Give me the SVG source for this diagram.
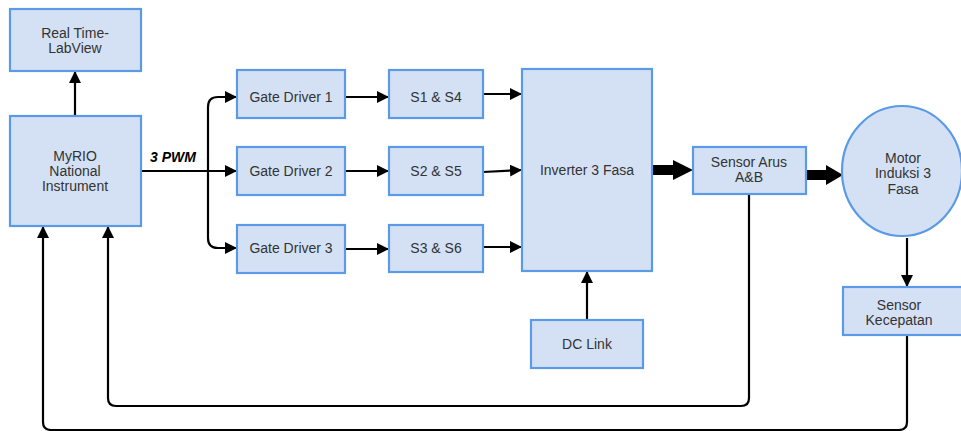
<svg xmlns="http://www.w3.org/2000/svg" width="961" height="431" viewBox="0 0 961 431">
<style>
.box{fill:#d4e1f5;stroke:#5a9ae6;stroke-width:2.2}
.t{font-family:"Liberation Sans",Arial,sans-serif;font-size:14px;fill:#333;text-anchor:middle}
.c{fill:none;stroke:#000;stroke-width:2.2}
.thick{fill:#000;stroke:none}
</style>
<defs>
<marker id="ah" markerUnits="userSpaceOnUse" markerWidth="12" markerHeight="12" viewBox="0 0 12 12" refX="11" refY="6" orient="auto">
<path d="M0,0 L12,6 L0,12 Z" fill="#000"/>
</marker>
</defs>
<rect width="961" height="431" fill="#fff"/>
<g id="connectors">
<path class="c" d="M75,115 V72" marker-end="url(#ah)"/>
<path class="c" d="M141,171 H236" marker-end="url(#ah)"/>
<path class="c" d="M208,171 V107 Q208,97 218,97 H236" marker-end="url(#ah)"/>
<path class="c" d="M208,171 V238 Q208,248 218,248 H236" marker-end="url(#ah)"/>
<path class="c" d="M345,97 H388" marker-end="url(#ah)"/>
<path class="c" d="M345,171 H388" marker-end="url(#ah)"/>
<path class="c" d="M345,249 H388" marker-end="url(#ah)"/>
<path class="c" d="M483,94 H521" marker-end="url(#ah)"/>
<path class="c" d="M483,172 L521,170" marker-end="url(#ah)"/>
<path class="c" d="M483,247 H521" marker-end="url(#ah)"/>
<path class="thick" d="M652,165 H673 V160 L693,170 L673,180 V175 H652 Z"/>
<path class="thick" d="M806,170 H826 V165 L843,175 L826,185 V180 H806 Z"/>
<path class="c" d="M587,320 V272" marker-end="url(#ah)"/>
<path class="c" d="M907,238 V286" marker-end="url(#ah)"/>
<path class="c" d="M749,194 V398 Q749,406 741,406 H116 Q108,406 108,398 V227" marker-end="url(#ah)"/>
<path class="c" d="M907,335 V422 Q907,430 899,430 H51 Q43,430 43,422 V227" marker-end="url(#ah)"/>
</g>
<g id="realtime">
<rect class="box" x="10" y="9" width="131" height="62"/>
<text class="t" x="75" y="38">Real Time-</text>
<text class="t" x="75" y="53">LabView</text>
</g>
<g id="myrio">
<rect class="box" x="10" y="116" width="131" height="110"/>
<text class="t" x="75" y="161">MyRIO</text>
<text class="t" x="75" y="176">National</text>
<text class="t" x="75" y="191">Instrument</text>
</g>
<g id="pwm-label">
<text x="150" y="162" style="font-family:'Liberation Sans',Arial,sans-serif;font-size:14px;font-weight:bold;font-style:italic;fill:#000">3 PWM</text>
</g>
<g id="gd1">
<rect class="box" x="237" y="70" width="108" height="48"/>
<text class="t" x="291" y="102">Gate Driver 1</text>
</g>
<g id="gd2">
<rect class="box" x="237" y="147" width="108" height="48"/>
<text class="t" x="291" y="176">Gate Driver 2</text>
</g>
<g id="gd3">
<rect class="box" x="237" y="225" width="108" height="48"/>
<text class="t" x="291" y="253">Gate Driver 3</text>
</g>
<g id="s14">
<rect class="box" x="389" y="70" width="94" height="48"/>
<text class="t" x="436" y="102">S1 &amp; S4</text>
</g>
<g id="s25">
<rect class="box" x="389" y="147" width="94" height="48"/>
<text class="t" x="436" y="176">S2 &amp; S5</text>
</g>
<g id="s36">
<rect class="box" x="389" y="225" width="94" height="47"/>
<text class="t" x="436" y="253">S3 &amp; S6</text>
</g>
<g id="inverter">
<rect class="box" x="522" y="69" width="130" height="202"/>
<text class="t" x="587" y="175">Inverter 3 Fasa</text>
</g>
<g id="sensor-arus">
<rect class="box" x="693" y="147" width="113" height="47"/>
<text class="t" x="749" y="167">Sensor Arus</text>
<text class="t" x="749" y="182">A&amp;B</text>
</g>
<g id="motor">
<ellipse class="box" cx="902" cy="171" rx="60" ry="65"/>
<text class="t" x="903" y="163">Motor</text>
<text class="t" x="903" y="178">Induksi 3</text>
<text class="t" x="903" y="194">Fasa</text>
</g>
<g id="sensor-kecepatan">
<rect class="box" x="843" y="287" width="125" height="48"/>
<text class="t" x="899" y="310">Sensor</text>
<text class="t" x="899" y="325">Kecepatan</text>
</g>
<g id="dclink">
<rect class="box" x="531" y="320" width="112" height="48"/>
<text class="t" x="587" y="349">DC Link</text>
</g>
</svg>
